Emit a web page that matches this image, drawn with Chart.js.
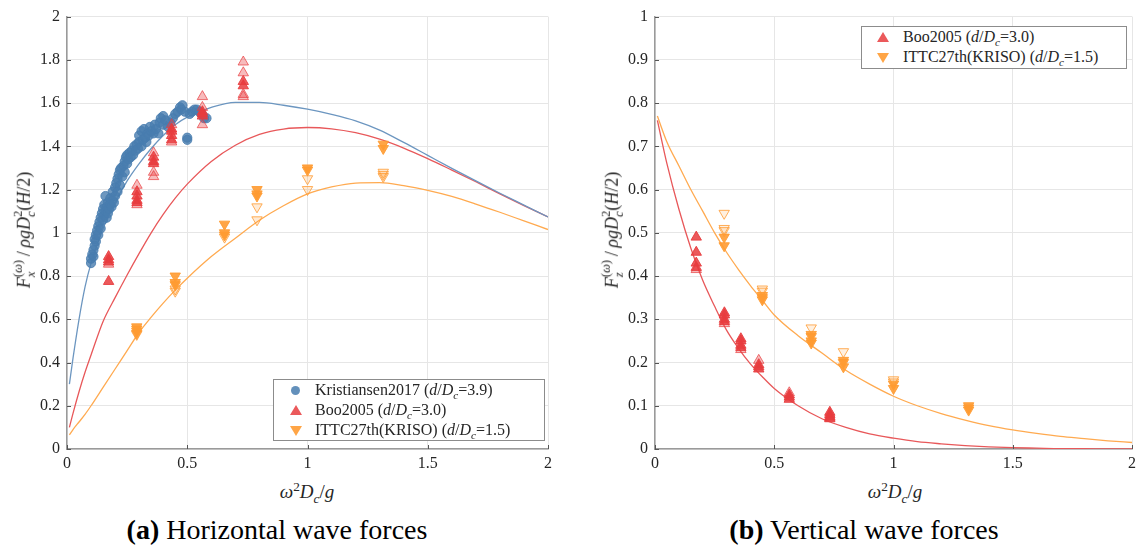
<!DOCTYPE html>
<html>
<head>
<meta charset="utf-8">
<script src="https://cdn.jsdelivr.net/npm/chart.js@4.4.1/dist/chart.umd.min.js"></script>
<style>
  body { margin: 0; background: #fff; width: 1141px; height: 549px; position: relative; overflow: hidden;
         font-family: "Liberation Serif", "Times New Roman", "DejaVu Serif", serif; color: #262626; }
  canvas { position: absolute; top: 0; }
  #fx { left: 0; }
  #fz { left: 585px; }
  .ytitle { position: absolute; transform: translate(-50%, -50%) rotate(-90deg); white-space: nowrap; font-size: 18px; }
  .xtitle { position: absolute; top: 492px; transform: translate(-50%, -50%); white-space: nowrap; font-size: 19px; }
  .caption { position: absolute; top: 530px; transform: translate(-50%, -50%); white-space: nowrap; font-size: 28px; color: #000; }
  .ss { display: inline-block; vertical-align: -0.45em; font-size: 0.7em; line-height: 1.05; text-align: left; }
  .ss span { display: block; }
  sup, sub { font-size: 0.7em; line-height: 0; }
  .legend { position: absolute; border: 1px solid #8c8c8c; background: #fff; font-size: 16px; box-sizing: border-box; }
  .legend .row { position: absolute; left: 0; height: 20px; line-height: 20px; white-space: nowrap; }
  .legend .txt { position: absolute; top: 0; }
  .mk { position: absolute; }
  .dot { width: 9px; height: 9px; border-radius: 50%; background: rgba(72,125,175,0.85); top: 6px; }
  .up { width: 0; height: 0; border-left: 6px solid transparent; border-right: 6px solid transparent; border-bottom: 10px solid rgba(232,60,62,0.85); top: 5px; }
  .down { width: 0; height: 0; border-left: 6px solid transparent; border-right: 6px solid transparent; border-top: 10px solid rgba(255,155,50,0.9); top: 6px; }
</style>
</head>
<body>
<canvas id="fx" width="560" height="475"></canvas>
<canvas id="fz" width="556" height="475"></canvas>

<div class="ytitle" style="left:25px; top:230px;"><i>F</i><span class="ss"><span>(<i>ω</i>)</span><span><i>x</i></span></span>&thinsp;/&thinsp;<i>ρgD</i><span class="ss"><span>2</span><span><i>c</i></span></span>(<i>H</i>/2)</div>
<div class="ytitle" style="left:613px; top:230px;"><i>F</i><span class="ss"><span>(<i>ω</i>)</span><span><i>z</i></span></span>&thinsp;/&thinsp;<i>ρgD</i><span class="ss"><span>2</span><span><i>c</i></span></span>(<i>H</i>/2)</div>
<div class="xtitle" style="left:307px;"><i>ω</i><sup>2</sup><i>D</i><sub><i>c</i></sub>/<i>g</i></div>
<div class="xtitle" style="left:895px;"><i>ω</i><sup>2</sup><i>D</i><sub><i>c</i></sub>/<i>g</i></div>

<div class="legend" style="left:273px; top:379px; width:272px; height:62px;">
  <div class="row" style="top:0px;"><div class="mk dot" style="left:17px;"></div><span class="txt" style="left:41px;">Kristiansen2017 (<i>d</i>/<i>D</i><sub><i>c</i></sub>=3.9)</span></div>
  <div class="row" style="top:20px;"><div class="mk up" style="left:16px;"></div><span class="txt" style="left:41px;">Boo2005 (<i>d</i>/<i>D</i><sub><i>c</i></sub>=3.0)</span></div>
  <div class="row" style="top:40px;"><div class="mk down" style="left:16px;"></div><span class="txt" style="left:41px;">ITTC27th(KRISO) (<i>d</i>/<i>D</i><sub><i>c</i></sub>=1.5)</span></div>
</div>
<div class="legend" style="left:861px; top:26px; width:266px; height:43px;">
  <div class="row" style="top:0px;"><div class="mk up" style="left:15px;"></div><span class="txt" style="left:41px;">Boo2005 (<i>d</i>/<i>D</i><sub><i>c</i></sub>=3.0)</span></div>
  <div class="row" style="top:20px;"><div class="mk down" style="left:15px;"></div><span class="txt" style="left:41px;">ITTC27th(KRISO) (<i>d</i>/<i>D</i><sub><i>c</i></sub>=1.5)</span></div>
</div>

<div class="caption" style="left:277px;"><b>(a)</b> Horizontal wave forces</div>
<div class="caption" style="left:864px;"><b>(b)</b> Vertical wave forces</div>

<script>
// axis ticks
const xTicks = [0, 0.5, 1, 1.5, 2];
const yTicksFx = [0, 0.2, 0.4, 0.6, 0.8, 1, 1.2, 1.4, 1.6, 1.8, 2];
const yTicksFz = [0, 0.1, 0.2, 0.3, 0.4, 0.5, 0.6, 0.7, 0.8, 0.9, 1];

// theory curves, horizontal force
const curveXFx = [0.01, 0.025, 0.05, 0.075, 0.1, 0.15, 0.2, 0.25, 0.3, 0.35, 0.4, 0.45, 0.5, 0.6, 0.7, 0.8, 0.9, 1.0, 1.1, 1.2, 1.3, 1.4, 1.5, 1.6, 1.7, 1.8, 1.9, 2.0];
const theoryFxD39 = [0.30, 0.42, 0.60, 0.75, 0.86, 1.02, 1.14, 1.24, 1.32, 1.39, 1.45, 1.50, 1.535, 1.58, 1.603, 1.603, 1.59, 1.572, 1.548, 1.518, 1.475, 1.418, 1.358, 1.298, 1.24, 1.183, 1.128, 1.073];
const theoryFxD30 = [0.10, 0.165, 0.265, 0.355, 0.435, 0.59, 0.70, 0.805, 0.905, 1.0, 1.085, 1.16, 1.225, 1.33, 1.405, 1.455, 1.48, 1.487, 1.481, 1.463, 1.433, 1.392, 1.343, 1.29, 1.236, 1.18, 1.126, 1.073];
const theoryFxD15 = [0.065, 0.09, 0.125, 0.16, 0.20, 0.285, 0.37, 0.455, 0.54, 0.61, 0.675, 0.735, 0.79, 0.89, 0.975, 1.058, 1.125, 1.18, 1.212, 1.23, 1.232, 1.218, 1.196, 1.168, 1.133, 1.095, 1.055, 1.015];

// theory curves, vertical force
const curveXFz = [0.01, 0.05, 0.1, 0.15, 0.2, 0.25, 0.3, 0.35, 0.4, 0.45, 0.5, 0.6, 0.7, 0.8, 0.9, 1.0, 1.1, 1.2, 1.3, 1.4, 1.5, 1.6, 1.7, 1.8, 1.9, 2.0];
const theoryFzD30 = [0.76, 0.66, 0.555, 0.465, 0.39, 0.33, 0.275, 0.233, 0.197, 0.167, 0.14, 0.10, 0.07, 0.05, 0.035, 0.025, 0.017, 0.012, 0.008, 0.005, 0.003, 0.002, 0.001, 0.001, 0.0, 0.0];
const theoryFzD15 = [0.77, 0.71, 0.655, 0.60, 0.55, 0.50, 0.455, 0.415, 0.378, 0.344, 0.31, 0.262, 0.222, 0.182, 0.15, 0.122, 0.10, 0.082, 0.067, 0.054, 0.044, 0.036, 0.029, 0.024, 0.019, 0.015];

// Kristiansen2017 measurements (horizontal only)
const kristX = [0.10, 0.10, 0.105, 0.11, 0.11, 0.115, 0.115, 0.12, 0.12, 0.125, 0.13, 0.13, 0.135, 0.14, 0.14, 0.145, 0.15, 0.15, 0.155, 0.155,
  0.16, 0.16, 0.165, 0.165, 0.17, 0.17, 0.175, 0.18, 0.18, 0.185, 0.19, 0.19, 0.195, 0.20, 0.20, 0.205, 0.21, 0.21, 0.215, 0.22,
  0.22, 0.225, 0.23, 0.235, 0.24, 0.24, 0.245, 0.25, 0.25, 0.255, 0.26, 0.265, 0.27, 0.275, 0.28, 0.285, 0.29, 0.295, 0.30, 0.30,
  0.31, 0.31, 0.315, 0.32, 0.325, 0.33, 0.335, 0.34, 0.345, 0.35, 0.36, 0.365, 0.37, 0.38, 0.385, 0.39, 0.40, 0.40, 0.41, 0.42,
  0.43, 0.44, 0.45, 0.46, 0.47, 0.475, 0.48, 0.49, 0.50, 0.50, 0.51, 0.52, 0.53, 0.54, 0.55, 0.56, 0.57, 0.58];
const kristFx = [0.86, 0.88, 0.90, 0.89, 0.92, 0.94, 0.97, 0.96, 0.99, 1.01, 1.03, 0.99, 1.05, 1.02, 1.07, 1.09, 1.06, 1.11, 1.08, 1.13,
  1.17, 1.10, 1.12, 1.07, 1.14, 1.09, 1.11, 1.13, 1.16, 1.12, 1.15, 1.19, 1.14, 1.17, 1.21, 1.23, 1.19, 1.25, 1.27, 1.22,
  1.29, 1.30, 1.26, 1.31, 1.28, 1.33, 1.35, 1.32, 1.36, 1.34, 1.37, 1.35, 1.38, 1.36, 1.40, 1.38, 1.41, 1.39, 1.42, 1.45,
  1.40, 1.47, 1.43, 1.48, 1.44, 1.42, 1.46, 1.45, 1.49, 1.47, 1.46, 1.50, 1.48, 1.46, 1.51, 1.53, 1.54, 1.50, 1.52, 1.49,
  1.51, 1.53, 1.55, 1.56, 1.58, 1.57, 1.59, 1.56, 1.44, 1.43, 1.55, 1.56, 1.57, 1.57, 1.56, 1.55, 1.53, 1.53];

// Boo2005, grouped by frequency
const booX = [0.173, 0.291, 0.36, 0.435, 0.563, 0.733];
const booFxSolid = [[0.89, 0.875, 0.865, 0.775], [1.19, 1.17, 1.15, 1.14], [1.35, 1.33, 1.32], [1.48, 1.47, 1.45, 1.43], [1.56, 1.55, 1.54], [1.70, 1.68]];
const booFxLight = [[0.855], [1.22, 1.13], [1.37, 1.28, 1.26], [1.50, 1.42], [1.63, 1.58, 1.50], [1.79, 1.74, 1.64, 1.63]];
const booFzSolid = [[0.49, 0.455, 0.43, 0.42], [0.315, 0.31, 0.30, 0.295], [0.255, 0.25, 0.24, 0.235], [0.195, 0.19, 0.185], [0.125, 0.12, 0.115], [0.085, 0.08, 0.075, 0.07]];
const booFzLight = [[0.415], [0.29], [0.23], [0.205], [0.13], [0.072]];

// ITTC27th (KRISO), grouped by frequency
const ittcX = [0.29, 0.45, 0.655, 0.79, 1.0, 1.315];
const ittcFxSolid = [[0.565, 0.555, 0.545, 0.535], [0.80, 0.77, 0.76], [1.04, 1.0, 0.99], [1.20, 1.18, 1.17], [1.30, 1.29], [1.41, 1.39]];
const ittcFxOpen = [[0.53], [0.74, 0.73], [0.98], [1.12, 1.06], [1.25, 1.20], [1.28, 1.27, 1.26]];
const ittcFzSolid = [[0.49, 0.47], [0.355, 0.35, 0.345], [0.265, 0.26, 0.25, 0.245], [0.205, 0.20, 0.19], [0.15, 0.14], [0.10, 0.095, 0.09]];
const ittcFzOpen = [[0.545, 0.51, 0.505], [0.37, 0.365], [0.28], [0.225], [0.16, 0.155], []];

const BLUE = [72, 125, 175], RED = [232, 60, 62], ORANGE = [255, 155, 50];
const rgba = (c, a) => `rgba(${c[0]},${c[1]},${c[2]},${a})`;

const pairs = (xs, ys) => xs.map((x, i) => ({ x, y: ys[i] }));
const grouped = (xs, groups) => groups.flatMap((g, i) => g.map(y => ({ x: xs[i], y })));

function curve(xs, ys, color) {
  return { type: 'line', data: pairs(xs, ys), borderColor: color, borderWidth: 1.3,
           pointRadius: 0, cubicInterpolationMode: 'monotone', fill: false, order: 10 };
}
function marks(data, style, col, fillA, lineA, order, rot) {
  return { type: 'scatter', data, pointStyle: style, pointRadius: style === 'circle' ? 4.6 : 6,
           rotation: rot || 0, backgroundColor: rgba(col, fillA), borderColor: rgba(col, lineA),
           borderWidth: 1, order };
}

// short tick marks pointing into the plot, MATLAB style
const innerTicks = {
  id: 'innerTicks',
  afterDraw(chart) {
    const { ctx, chartArea: a, scales: { x, y } } = chart;
    ctx.save();
    ctx.strokeStyle = '#555';
    ctx.lineWidth = 1;
    ctx.beginPath();
    x.ticks.forEach(t => { const px = Math.round(x.getPixelForValue(t.value)) + 0.5; ctx.moveTo(px, a.bottom); ctx.lineTo(px, a.bottom - 4); });
    y.ticks.forEach(t => { const py = Math.round(y.getPixelForValue(t.value)) + 0.5; ctx.moveTo(a.left, py); ctx.lineTo(a.left + 4, py); });
    ctx.stroke();
    ctx.restore();
  }
};

function axes(yTicks, yMax, yWidth) {
  const tickFont = { family: '"Liberation Serif", "Times New Roman", "DejaVu Serif", serif', size: 16 };
  const grid = { color: '#e6e6e6', lineWidth: 1, drawTicks: false };
  const border = { display: true, color: '#9a9a9a', width: 1.5 };
  return {
    x: { type: 'linear', min: 0, max: 2, grid, border,
         afterBuildTicks: s => { s.ticks = xTicks.map(v => ({ value: v })); },
         afterFit: s => { s.height = 26; },
         ticks: { font: tickFont, color: '#262626', padding: 5, maxRotation: 0, callback: v => String(v) } },
    y: { type: 'linear', min: 0, max: yMax, grid, border,
         afterBuildTicks: s => { s.ticks = yTicks.map(v => ({ value: v })); },
         afterFit: s => { s.width = yWidth; },
         ticks: { font: tickFont, color: '#262626', padding: 7, callback: v => String(+v.toFixed(2)) } }
  };
}

const common = {
  responsive: false, animation: false,
  plugins: { legend: { display: false }, tooltip: { enabled: false } }
};

new Chart(document.getElementById('fx'), {
  type: 'scatter',
  data: { datasets: [
    curve(curveXFx, theoryFxD39, 'rgb(108,150,192)'),
    curve(curveXFx, theoryFxD30, 'rgb(232,88,90)'),
    curve(curveXFx, theoryFxD15, 'rgb(255,170,80)'),
    marks(pairs(kristX, kristFx), 'circle', BLUE, 0.8, 0.85, 4),
    marks(grouped(booX, booFxLight), 'triangle', RED, 0.35, 0.7, 3),
    marks(grouped(booX, booFxSolid), 'triangle', RED, 0.85, 0.9, 2),
    marks(grouped(ittcX, ittcFxOpen), 'triangle', ORANGE, 0.2, 0.8, 1, 180),
    marks(grouped(ittcX, ittcFxSolid), 'triangle', ORANGE, 0.9, 0.9, 0, 180)
  ] },
  options: { ...common, layout: { padding: { top: 16, right: 12, left: 0, bottom: 0 } }, scales: axes(yTicksFx, 2, 67) },
  plugins: [innerTicks]
});

new Chart(document.getElementById('fz'), {
  type: 'scatter',
  data: { datasets: [
    curve(curveXFz, theoryFzD30, 'rgb(232,88,90)'),
    curve(curveXFz, theoryFzD15, 'rgb(255,170,80)'),
    marks(grouped(booX, booFzLight), 'triangle', RED, 0.35, 0.7, 3),
    marks(grouped(booX, booFzSolid), 'triangle', RED, 0.85, 0.9, 2),
    marks(grouped(ittcX, ittcFzOpen), 'triangle', ORANGE, 0.15, 0.8, 1, 180),
    marks(grouped(ittcX, ittcFzSolid), 'triangle', ORANGE, 0.9, 0.9, 0, 180)
  ] },
  options: { ...common, layout: { padding: { top: 16, right: 5, left: 0, bottom: 0 } }, scales: axes(yTicksFz, 1, 70) },
  plugins: [innerTicks]
});
</script>
</body>
</html>
